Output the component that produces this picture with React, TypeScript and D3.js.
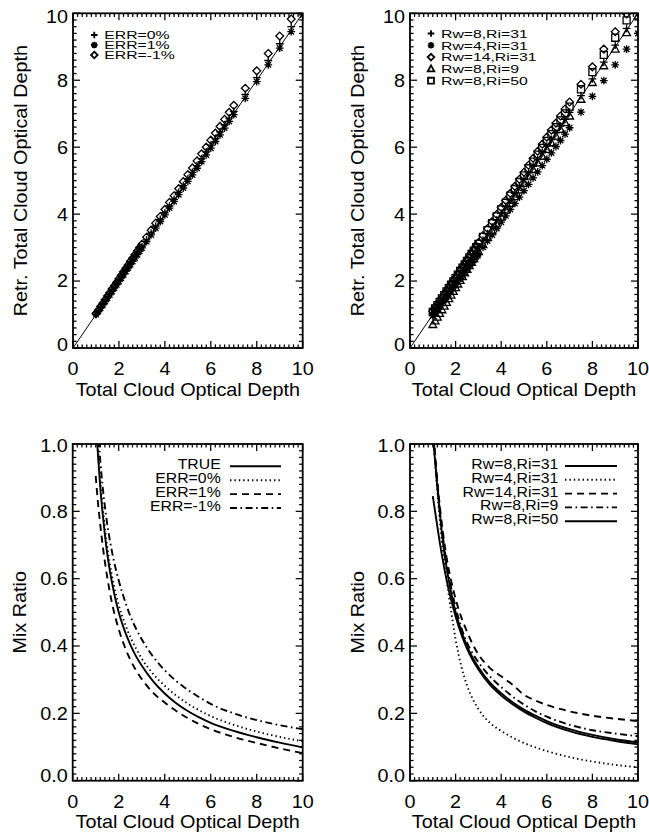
import React from 'react';
import * as d3 from 'd3';

// ---------- DATA ----------
const xTickValsTop = [0, 2, 4, 6, 8, 10];
const xTickLabels = ['0', '2', '4', '6', '8', '10'];
const yTickValsTop = [0, 2, 4, 6, 8, 10];
const yTickLabelsTop = ['0', '2', '4', '6', '8', '10'];
const yTickValsBottom = [0, 0.2, 0.4, 0.6, 0.8, 1.0];
const yTickLabelsBottom = ['0.0', '0.2', '0.4', '0.6', '0.8', '1.0'];

// true total cloud optical depth of the retrieval cases
const tauTrue = [1.0, 1.1, 1.2, 1.3, 1.4, 1.5, 1.6, 1.7, 1.8, 1.9, 2.0, 2.1, 2.2, 2.3, 2.4, 2.5, 2.6, 2.7, 2.8, 2.9, 3.0,
  3.2, 3.4, 3.6, 3.8, 4.0, 4.2, 4.4, 4.6, 4.8, 5.0, 5.2, 5.4, 5.6, 5.8, 6.0, 6.2, 6.4, 6.6, 6.8, 7.0, 7.5, 8.0, 8.5, 9.0, 9.5, 10.0];

// top-left: retrieved optical depth
const retrErr0 = [1.01, 1.11, 1.21, 1.31, 1.41, 1.52, 1.62, 1.72, 1.82, 1.92, 2.02, 2.12, 2.22, 2.32, 2.42, 2.53, 2.63, 2.73, 2.83, 2.93, 3.03,
  3.23, 3.43, 3.64, 3.84, 4.04, 4.24, 4.44, 4.65, 4.85, 5.05, 5.25, 5.45, 5.66, 5.86, 6.06, 6.26, 6.46, 6.67, 6.87, 7.07, 7.58, 8.08, 8.59, 9.09, 9.6, 10.1];
const retrErrP1 = [1.0, 1.09, 1.19, 1.29, 1.39, 1.49, 1.59, 1.69, 1.79, 1.89, 1.99, 2.09, 2.19, 2.29, 2.39, 2.49, 2.59, 2.69, 2.79, 2.89, 2.99,
  3.18, 3.38, 3.58, 3.78, 3.98, 4.18, 4.38, 4.58, 4.78, 4.98, 5.17, 5.37, 5.57, 5.77, 5.97, 6.17, 6.37, 6.57, 6.77, 6.97, 7.46, 7.96, 8.46, 8.96, 9.45, 9.95];
const retrErrM1 = [1.03, 1.13, 1.24, 1.34, 1.44, 1.55, 1.65, 1.76, 1.86, 1.96, 2.07, 2.17, 2.28, 2.38, 2.48, 2.59, 2.69, 2.79, 2.9, 3.0, 3.1,
  3.31, 3.52, 3.73, 3.93, 4.14, 4.35, 4.55, 4.76, 4.97, 5.18, 5.38, 5.59, 5.8, 6.0, 6.21, 6.42, 6.62, 6.83, 7.04, 7.25, 7.76, 8.28, 8.8, 9.32, 9.83, 10.35];

// top-right: retrieved optical depth for different particle radii
const retrRw8Ri31 = [1.01, 1.11, 1.21, 1.31, 1.41, 1.51, 1.61, 1.71, 1.81, 1.91, 2.01, 2.11, 2.21, 2.31, 2.41, 2.51, 2.61, 2.71, 2.81, 2.91, 3.02,
  3.22, 3.42, 3.62, 3.82, 4.02, 4.22, 4.42, 4.62, 4.82, 5.03, 5.23, 5.43, 5.63, 5.83, 6.03, 6.23, 6.43, 6.63, 6.83, 7.04, 7.54, 8.04, 8.54, 9.05, 9.55, 10.05];
const retrRw4Ri31 = [0.96, 1.05, 1.15, 1.24, 1.34, 1.43, 1.52, 1.62, 1.71, 1.8, 1.89, 1.99, 2.08, 2.17, 2.26, 2.36, 2.45, 2.54, 2.63, 2.73, 2.82,
  3.01, 3.2, 3.38, 3.57, 3.76, 3.95, 4.14, 4.32, 4.51, 4.7, 4.89, 5.08, 5.26, 5.45, 5.64, 5.83, 6.02, 6.2, 6.39, 6.58, 7.05, 7.52, 7.99, 8.46, 8.93, 9.4];
const retrRw14Ri31 = [1.1, 1.2, 1.3, 1.4, 1.5, 1.6, 1.7, 1.8, 1.91, 2.01, 2.11, 2.21, 2.32, 2.42, 2.52, 2.63, 2.73, 2.84, 2.94, 3.05, 3.15,
  3.36, 3.57, 3.78, 3.99, 4.2, 4.41, 4.62, 4.83, 5.04, 5.25, 5.46, 5.67, 5.88, 6.09, 6.3, 6.51, 6.72, 6.93, 7.14, 7.35, 7.88, 8.4, 8.93, 9.45, 9.98, 10.5];
const retrRw8Ri9 = [0.7, 0.81, 0.92, 1.03, 1.14, 1.25, 1.36, 1.47, 1.58, 1.69, 1.8, 1.91, 2.02, 2.13, 2.24, 2.35, 2.46, 2.56, 2.67, 2.78, 2.88,
  3.09, 3.3, 3.5, 3.71, 3.91, 4.12, 4.32, 4.52, 4.72, 4.92, 5.13, 5.33, 5.53, 5.73, 5.93, 6.13, 6.33, 6.53, 6.73, 6.93, 7.43, 7.93, 8.43, 8.93, 9.42, 9.92];
const retrRw8Ri50 = [1.08, 1.18, 1.28, 1.38, 1.48, 1.58, 1.69, 1.79, 1.89, 1.99, 2.09, 2.19, 2.3, 2.4, 2.5, 2.6, 2.71, 2.81, 2.91, 3.01, 3.11,
  3.32, 3.52, 3.73, 3.93, 4.14, 4.34, 4.55, 4.75, 4.96, 5.16, 5.37, 5.57, 5.78, 5.98, 6.19, 6.39, 6.6, 6.8, 7.01, 7.21, 7.73, 8.24, 8.76, 9.27, 9.79, 10.3];

// bottom panels: mix ratio vs optical depth
const tauCurve = [1.0, 1.1, 1.2, 1.3, 1.4, 1.5, 1.6, 1.8, 2.0, 2.25, 2.5, 2.75, 3.0, 3.5, 4.0, 4.5, 5.0, 5.5, 6.0, 7.0, 8.0, 9.0, 10.0];
const mixTrue = [1.08, 0.965, 0.87, 0.795, 0.73, 0.675, 0.63, 0.557, 0.5, 0.447, 0.405, 0.37, 0.342, 0.295, 0.259, 0.23, 0.207, 0.188, 0.172, 0.148, 0.129, 0.113, 0.099];
const mixErr0 = [1.1, 0.985, 0.89, 0.815, 0.75, 0.695, 0.65, 0.578, 0.522, 0.47, 0.428, 0.393, 0.363, 0.317, 0.282, 0.253, 0.229, 0.209, 0.192, 0.166, 0.146, 0.13, 0.117];
const mixErrP1 = [0.905, 0.825, 0.76, 0.7, 0.65, 0.605, 0.565, 0.5, 0.45, 0.4, 0.36, 0.328, 0.302, 0.261, 0.232, 0.207, 0.186, 0.168, 0.153, 0.13, 0.112, 0.096, 0.082];
const mixErrM1 = [1.15, 1.04, 0.95, 0.875, 0.815, 0.762, 0.72, 0.65, 0.595, 0.538, 0.49, 0.452, 0.42, 0.368, 0.328, 0.296, 0.27, 0.248, 0.228, 0.2, 0.18, 0.165, 0.153];

const mixRw8Ri31 = [1.03, 0.95, 0.87, 0.8, 0.735, 0.68, 0.635, 0.56, 0.5, 0.445, 0.4, 0.365, 0.337, 0.292, 0.26, 0.233, 0.211, 0.193, 0.177, 0.153, 0.136, 0.123, 0.114];
const mixRw4Ri31 = [1.05, 0.95, 0.86, 0.78, 0.71, 0.65, 0.6, 0.505, 0.42, 0.34, 0.283, 0.243, 0.213, 0.172, 0.148, 0.128, 0.112, 0.099, 0.088, 0.07, 0.057, 0.047, 0.04];
const mixRw14Ri31 = [1.06, 0.97, 0.89, 0.82, 0.76, 0.71, 0.665, 0.595, 0.54, 0.485, 0.443, 0.405, 0.375, 0.335, 0.31, 0.285, 0.255, 0.238, 0.225, 0.206, 0.193, 0.184, 0.177];
const mixRw8Ri9 = [1.05, 0.96, 0.88, 0.81, 0.75, 0.695, 0.65, 0.575, 0.515, 0.455, 0.41, 0.378, 0.352, 0.31, 0.278, 0.25, 0.226, 0.206, 0.19, 0.166, 0.15, 0.14, 0.132];
const mixRw8Ri50 = [0.845, 0.8, 0.755, 0.71, 0.67, 0.632, 0.598, 0.538, 0.488, 0.435, 0.392, 0.358, 0.33, 0.285, 0.253, 0.227, 0.205, 0.187, 0.171, 0.147, 0.13, 0.118, 0.108];

const legendTL = ['ERR=0%', 'ERR=1%', 'ERR=-1%'];
const legendTR = ['Rw=8,Ri=31', 'Rw=4,Ri=31', 'Rw=14,Ri=31', 'Rw=8,Ri=9', 'Rw=8,Ri=50'];
const legendBL = ['TRUE', 'ERR=0%', 'ERR=1%', 'ERR=-1%'];
const legendBR = ['Rw=8,Ri=31', 'Rw=4,Ri=31', 'Rw=14,Ri=31', 'Rw=8,Ri=9', 'Rw=8,Ri=50'];

const xTitle = 'Total Cloud Optical Depth';
const yTitleTop = 'Retr. Total Cloud Optical Depth';
const yTitleBottom = 'Mix Ratio';

// ---------- STYLE / LAYOUT ----------
const FONT = '"Liberation Sans", Arial, Helvetica, sans-serif';
const W = 649;
const H = 836;
const AX_FS = 18;
const AX_SX = 1.1;

type Box = { left: number; right: number; top: number; bottom: number };
const boxTL: Box = { left: 73, right: 302.7, top: 13.3, bottom: 348 };
const boxTR: Box = { left: 410, right: 638, top: 13.3, bottom: 348 };
const boxBL: Box = { left: 72.7, right: 302.7, top: 444, bottom: 780.7 };
const boxBR: Box = { left: 410, right: 638, top: 444, bottom: 780.7 };

const DASH: Record<string, string | undefined> = {
  solid: undefined,
  dotted: '1.4 3',
  dashed: '7 5',
  dashdot: '7 3.5 1.6 3.5',
};

function markerPath(kind: string, x: number, y: number, s: number): string {
  switch (kind) {
    case 'plus':
      return `M${x - s},${y}H${x + s}M${x},${y - s}V${y + s}`;
    case 'star': {
      const d = s * 0.72;
      return `M${x - s},${y}H${x + s}M${x},${y - s}V${y + s}M${x - d},${y - d}L${x + d},${y + d}M${x - d},${y + d}L${x + d},${y - d}`;
    }
    case 'diamond':
      return `M${x},${y - s}L${x + s},${y}L${x},${y + s}L${x - s},${y}Z`;
    case 'triangle':
      return `M${x - s},${y + s * 0.75}L${x + s},${y + s * 0.75}L${x},${y - s * 1.05}Z`;
    case 'square':
      return `M${x - s * 0.9},${y - s * 0.9}H${x + s * 0.9}V${y + s * 0.9}H${x - s * 0.9}Z`;
    default:
      return '';
  }
}

function SText({ x, y, text, size, sx, anchor = 'start' }: { x: number; y: number; text: string; size: number; sx: number; anchor?: string }) {
  return (
    <text transform={`translate(${x},${y}) scale(${sx},1)`} fontSize={size} fontFamily={FONT} textAnchor={anchor as any} fill="#000">
      {text}
    </text>
  );
}

function Frame({ box, xs, ys, yVals, yLabels, yMinorStep, yTitle, id, labelShift }: {
  box: Box; xs: d3.ScaleLinear<number, number>; ys: d3.ScaleLinear<number, number>;
  yVals: number[]; yLabels: string[]; yMinorStep: number; yTitle: string; id: string; labelShift: [number, number];
}) {
  const els: React.ReactNode[] = [];
  const MAJ = 7;
  const MIN = 3.6;
  const [xd0, xd1] = xs.domain();
  const xMinorN = Math.round((xd1 - xd0) / 0.2);
  for (let i = 0; i <= xMinorN; i++) {
    const v = xd0 + i * 0.2;
    const isMaj = Math.abs(v / 2 - Math.round(v / 2)) < 1e-6;
    const L = isMaj ? MAJ : MIN;
    const px = xs(v);
    els.push(<line key={`xb${i}`} x1={px} x2={px} y1={box.bottom} y2={box.bottom - L} />);
    els.push(<line key={`xt${i}`} x1={px} x2={px} y1={box.top} y2={box.top + L} />);
  }
  const [yd0, yd1] = ys.domain();
  const yMinorN = Math.round((yd1 - yd0) / yMinorStep);
  const majStep = yVals[1] - yVals[0];
  for (let i = 0; i <= yMinorN; i++) {
    const v = yd0 + i * yMinorStep;
    const isMaj = Math.abs(v / majStep - Math.round(v / majStep)) < 1e-6;
    const L = isMaj ? MAJ : MIN;
    const py = ys(v);
    els.push(<line key={`yl${i}`} x1={box.left} x2={box.left + L} y1={py} y2={py} />);
    els.push(<line key={`yr${i}`} x1={box.right} x2={box.right - L} y1={py} y2={py} />);
  }
  return (
    <g>
      <g stroke="#000" strokeWidth={1.25}>{els}</g>
      <rect x={box.left} y={box.top} width={box.right - box.left} height={box.bottom - box.top} fill="none" stroke="#000" strokeWidth={1.8} />
      {xTickValsTop.map((v, i) => (
        <SText key={`xl${i}`} x={xs(v)} y={box.bottom + 27} text={xTickLabels[i]} size={AX_FS} sx={AX_SX} anchor="middle" />
      ))}
      {yVals.map((v, i) => {
        const shift = i === 0 ? labelShift[0] : i === yVals.length - 1 ? labelShift[1] : 0;
        return <SText key={`yl${i}`} x={box.left - 5} y={ys(v) + 6.4 + shift} text={yLabels[i]} size={AX_FS} sx={AX_SX} anchor="end" />;
      })}
      <SText x={(box.left + box.right) / 2} y={box.bottom + 47.5} text={xTitle} size={AX_FS} sx={AX_SX} anchor="middle" />
      <text transform={`translate(${box.left - 46.5},${(box.top + box.bottom) / 2}) rotate(-90) scale(${AX_SX},1)`}
        fontSize={AX_FS} fontFamily={FONT} textAnchor="middle" fill="#000">{yTitle}</text>
      <clipPath id={id}>
        <rect x={box.left} y={box.top} width={box.right - box.left} height={box.bottom - box.top} />
      </clipPath>
    </g>
  );
}

function ScatterPanel({ box, series, kinds, legend, legX, legY0, legStep, id }: {
  box: Box; series: number[][]; kinds: string[]; legend: string[]; legX: number; legY0: number; legStep: number; id: string;
}) {
  const xs = d3.scaleLinear().domain([0, 10]).range([box.left, box.right]);
  const ys = d3.scaleLinear().domain([0, 10]).range([box.bottom, box.top]);
  return (
    <g>
      <Frame box={box} xs={xs} ys={ys} yVals={yTickValsTop} yLabels={yTickLabelsTop} yMinorStep={0.2} yTitle={yTitleTop} id={id} labelShift={[-3, 3]} />
      <g clipPath={`url(#${id})`}>
        <line x1={xs(0)} y1={ys(0)} x2={xs(10)} y2={ys(10)} stroke="#000" strokeWidth={1} />
        {series.map((ser, si) => (
          <path key={si} d={ser.map((v, i) => markerPath(kinds[si], xs(tauTrue[i]), ys(v), 3.9)).join('')}
            fill="none" stroke="#000" strokeWidth={1.3} />
        ))}
      </g>
      {legend.map((t, i) => (
        <g key={i}>
          <path d={markerPath(kinds[i], legX, legY0 + i * legStep, 3.3)} fill="none" stroke="#000" strokeWidth={1.8} />
          <SText x={legX + 10} y={legY0 + i * legStep + 4.2} text={t} size={11.6} sx={1.36} />
        </g>
      ))}
    </g>
  );
}

function CurvePanel({ box, series, styles, legend, legRight, legY0, legStep, lineX0, lineX1, id }: {
  box: Box; series: number[][]; styles: string[]; legend: string[]; legRight: number; legY0: number; legStep: number;
  lineX0: number; lineX1: number; id: string;
}) {
  const xs = d3.scaleLinear().domain([0, 10]).range([box.left, box.right]);
  const ys = d3.scaleLinear().domain([0, 1]).range([box.bottom, box.top]);
  const line = d3.line<number>().x((_, i) => xs(tauCurve[i])).y((d) => ys(d)).curve(d3.curveMonotoneX);
  return (
    <g>
      <Frame box={box} xs={xs} ys={ys} yVals={yTickValsBottom} yLabels={yTickLabelsBottom} yMinorStep={0.02} yTitle={yTitleBottom} id={id} labelShift={[-5, 2]} />
      <g clipPath={`url(#${id})`}>
        {series.map((ser, si) => (
          <path key={si} d={line(ser) || ''} fill="none" stroke="#000" strokeWidth={1.9} strokeDasharray={DASH[styles[si]]} />
        ))}
      </g>
      {legend.map((t, i) => (
        <g key={i}>
          <SText x={legRight} y={legY0 + i * legStep + 5} text={t} size={14} sx={1.13} anchor="end" />
          <line x1={lineX0} x2={lineX1} y1={legY0 + i * legStep + 2} y2={legY0 + i * legStep + 2}
            stroke="#000" strokeWidth={1.9} strokeDasharray={DASH[styles[i]]} />
        </g>
      ))}
    </g>
  );
}

export default function App() {
  return (
    <svg width={W} height={H} viewBox={`0 0 ${W} ${H}`} style={{ position: 'absolute', left: 0, top: 0, background: '#fff' }}>
      <rect x={0} y={0} width={W} height={H} fill="#fff" />
      <ScatterPanel box={boxTL} series={[retrErr0, retrErrP1, retrErrM1]} kinds={['plus', 'star', 'diamond']}
        legend={legendTL} legX={94.3} legY0={35} legStep={10} id="clipTL" />
      <ScatterPanel box={boxTR} series={[retrRw8Ri31, retrRw4Ri31, retrRw14Ri31, retrRw8Ri9, retrRw8Ri50]}
        kinds={['plus', 'star', 'diamond', 'triangle', 'square']}
        legend={legendTR} legX={431} legY0={33.5} legStep={11.8} id="clipTR" />
      <CurvePanel box={boxBL} series={[mixTrue, mixErr0, mixErrP1, mixErrM1]} styles={['solid', 'dotted', 'dashed', 'dashdot']}
        legend={legendBL} legRight={220.7} legY0={464.3} legStep={13.9} lineX0={230} lineX1={281} id="clipBL" />
      <CurvePanel box={boxBR} series={[mixRw8Ri31, mixRw4Ri31, mixRw14Ri31, mixRw8Ri9, mixRw8Ri50]}
        styles={['solid', 'dotted', 'dashed', 'dashdot', 'solid']}
        legend={legendBR} legRight={558.3} legY0={464} legStep={13.8} lineX0={565} lineX1={617} id="clipBR" />
    </svg>
  );
}
